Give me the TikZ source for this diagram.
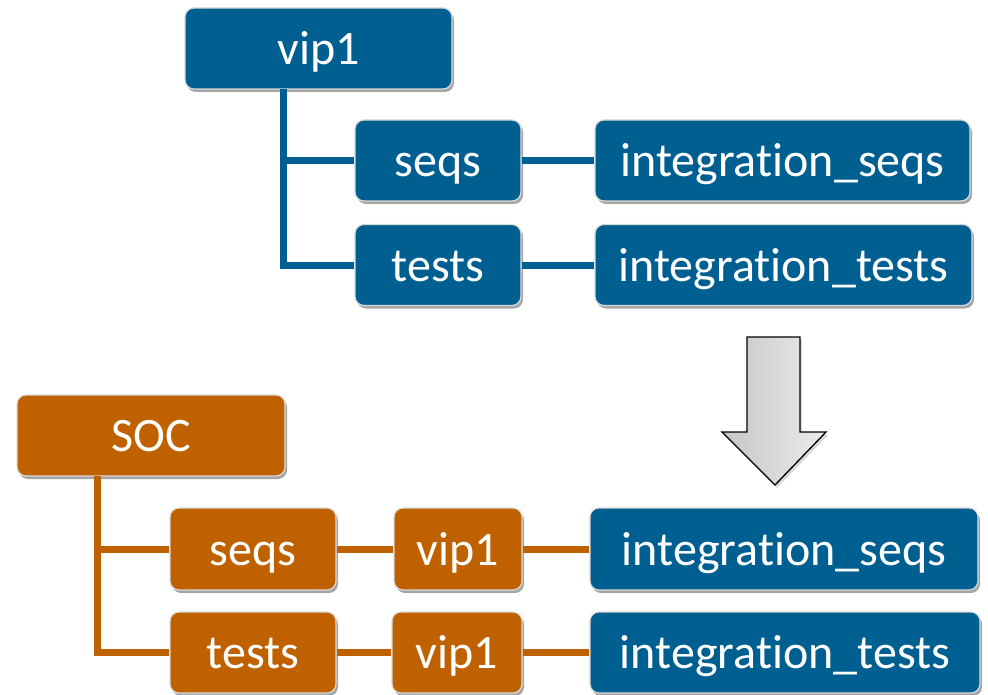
\documentclass[tikz,border=0pt]{standalone}
\usepackage{fontspec}
\setmainfont{Carlito}[Ligatures={NoCommon}]
\usetikzlibrary{shadows}
\definecolor{bblue}{RGB}{0,95,145}
\definecolor{borange}{RGB}{192,97,0}
\tikzset{
  box/.style={rounded corners=9pt, draw=white!85!black, line width=1.2pt, text=white,
    font=\fontsize{48}{52}\selectfont, inner sep=0pt, text height=32pt, text depth=0pt,
    drop shadow={shadow xshift=2pt, shadow yshift=-3pt, opacity=0.35, fill=black}},
  bluebox/.style={box, fill=bblue},
  orangebox/.style={box, fill=borange},
  bline/.style={draw=bblue, line width=7pt},
  oline/.style={draw=borange, line width=7pt},
}
\begin{document}
\begin{tikzpicture}[x=1pt,y=-1pt]
\useasboundingbox (0,0) rectangle (988,695);
% top tree
\node[bluebox, minimum width=267pt, minimum height=81pt] (vip) at (318.5,48.5) {vip1};
\node[bluebox, minimum width=166pt, minimum height=81pt] (seqs) at (438,160.5) {seqs};
\node[bluebox, minimum width=166pt, minimum height=81pt] (tests) at (438,265) {tests};
\node[bluebox, minimum width=375pt, minimum height=81pt] (iseqs) at (782.5,160.5) {integration\_seqs};
\node[bluebox, minimum width=377pt, minimum height=81pt] (itests) at (783.5,265) {integration\_tests};
\coordinate (tv) at (283,89);
\draw[bline] (tv) |- (seqs.west);
\draw[bline] (tv) |- (tests.west);
\draw[bline] (seqs.east) -- (iseqs.west);
\draw[bline] (tests.east) -- (itests.west);
% arrow
\shade[left color=gray!45, right color=gray!15, draw=black, line width=1.3pt, line join=miter,
  drop shadow={shadow xshift=2pt, shadow yshift=-3pt, opacity=0.3}]
  (747,337) -- (800,337) -- (800,432) -- (826,432) -- (775,485) -- (722,432) -- (747,432) -- cycle;
% bottom tree
\node[orangebox, minimum width=268pt, minimum height=81pt] (soc) at (151,435.5) {SOC};
\node[orangebox, minimum width=166pt, minimum height=82pt] (seqs2) at (253,549) {seqs};
\node[orangebox, minimum width=166pt, minimum height=81pt] (tests2) at (253,652.5) {tests};
\node[orangebox, minimum width=128pt, minimum height=82pt] (vipa) at (458,549) {vip1};
\node[orangebox, minimum width=130pt, minimum height=81pt] (vipb) at (457,652.5) {vip1};
\node[bluebox, minimum width=388pt, minimum height=82pt] (iseqs2) at (784,549) {integration\_seqs};
\node[bluebox, minimum width=390pt, minimum height=81pt] (itests2) at (785,652.5) {integration\_tests};
\coordinate (sv) at (97,476);
\draw[oline] (sv) |- (seqs2.west);
\draw[oline] (sv) |- (tests2.west);
\draw[oline] (seqs2.east) -- (vipa.west);
\draw[oline] (vipa.east) -- (iseqs2.west);
\draw[oline] (tests2.east) -- (vipb.west);
\draw[oline] (vipb.east) -- (itests2.west);
\end{tikzpicture}
\end{document}
